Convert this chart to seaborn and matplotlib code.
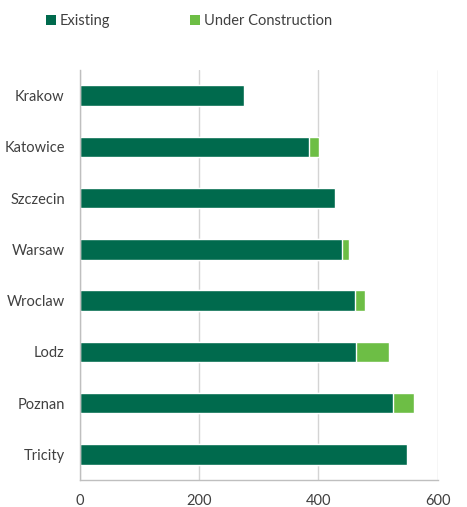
import matplotlib
matplotlib.use("Agg")
import matplotlib.pyplot as plt
import seaborn as sns
import pandas as pd
from matplotlib.patches import Patch

cities = ["Krakow", "Katowice", "Szczecin", "Warsaw", "Wroclaw", "Lodz", "Poznan", "Tricity"]
existing = [275, 384, 428, 440, 461, 463, 525, 549]
under_construction = [0, 17, 0, 12, 17, 56, 36, 0]
xticks = [0, 200, 400, 600]

dark = "#006A4D"
light = "#6DBE45"
text_col = "#404040"

sns.set_theme(style="white")
plt.rcParams["font.family"] = ["Lato", "DejaVu Sans"]

df = pd.DataFrame({"city": cities, "existing": existing, "uc": under_construction})
df["total"] = df["existing"] + df["uc"]

fig = plt.figure(figsize=(4.67, 5.07), dpi=100)
ax = fig.add_axes([80/467, 1-480/507, (437.5-80)/467, (480-70)/507])

sns.barplot(data=df, x="total", y="city", orient="h", color=light, width=0.4, ax=ax,
            saturation=1, order=cities)
sns.barplot(data=df, x="existing", y="city", orient="h", color=dark, width=0.4, ax=ax,
            saturation=1, order=cities)

ax.set_xlim(0, 600)
ax.set_ylim(7.5, -0.5)
ax.set_xticks(xticks)
ax.set_xticklabels([str(v) for v in xticks])
ax.set_xlabel("")
ax.set_ylabel("")
ax.xaxis.grid(True, color="#d4d4d4", linewidth=1)
ax.set_axisbelow(True)
for s in ["top", "right"]:
    ax.spines[s].set_visible(False)
for s in ["left", "bottom"]:
    ax.spines[s].set_color("#bfbfbf")
    ax.spines[s].set_linewidth(1)
ax.tick_params(axis="y", length=0, pad=11, labelsize=10.5, labelcolor=text_col)
ax.tick_params(axis="x", length=0, pad=10, labelsize=10.5, labelcolor=text_col)

handles = [Patch(facecolor=dark, edgecolor="none"), Patch(facecolor=light, edgecolor="none")]
fig.legend(handles, ["Existing", "Under Construction"], loc="upper left",
           bbox_to_anchor=(33/467, 1-1/507), ncol=2, frameon=False,
           handlelength=0.7, handleheight=0.7, handletextpad=0.25,
           columnspacing=5.45, fontsize=10.5, labelcolor=text_col)

fig.savefig("out.png", dpi=100)
